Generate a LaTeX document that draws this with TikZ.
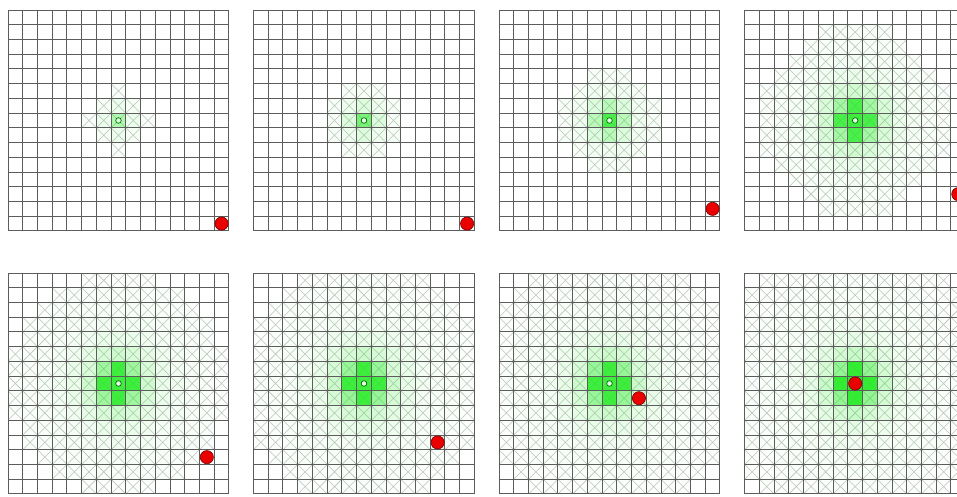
\documentclass[tikz,border=0pt]{standalone}
\usepackage{tikz}
\usepackage{xcolor}
\definecolor{cellgreen}{RGB}{30,235,30}
\definecolor{agentred}{RGB}{235,0,0}
\tikzset{
  gridline/.style={draw=black!64,line width=1pt},
  crossline/.style={draw=black!24,line width=0.55pt},
  agent/.style={fill=agentred,draw=red!45!black,line width=0.6pt},
  startmark/.style={fill=green!12,draw=green!40!black,line width=0.7pt}
}
\def\cs{14.73}
% #1,#2 origin, #3 peak, #4 spread, #5 radius^2, #6,#7 agent cell
\newcommand{\gridpanel}[7]{%
\begin{scope}[shift={(#1,#2)}]
\foreach \i in {0,...,14}{
  \foreach \j in {0,...,14}{
    \pgfmathsetmacro{\dd}{(\i-7)^2+(\j-7)^2}
    \pgfmathtruncatemacro{\inx}{\dd<=#5}
    \ifnum\inx=1
      \pgfmathsetmacro{\op}{min(#3,#4/max(\dd,0.01))}
      \draw[crossline] ({\i*\cs},{\j*\cs}) -- ++(\cs,\cs) ({(\i+1)*\cs},{\j*\cs}) -- ++(-\cs,\cs);
      \fill[cellgreen,fill opacity=\op] ({\i*\cs},{\j*\cs}) rectangle ++(\cs,\cs);
    \fi
  }
}
\foreach \k in {0,...,15}{
  \draw[gridline] ({\k*\cs},0) -- ({\k*\cs},{15*\cs});
  \draw[gridline] (0,{\k*\cs}) -- ({15*\cs},{\k*\cs});
}
\filldraw[startmark] ({7.5*\cs},{7.5*\cs}) circle (2.8pt);
\filldraw[agent] ({(#6+0.5)*\cs},{(#7+0.5)*\cs}) circle (6.6pt);
\end{scope}}

\begin{document}
\begin{tikzpicture}[x=1pt,y=-1pt]
\useasboundingbox (0,0) rectangle (957,496);
\clip (0,0) rectangle (957,496);
\fill[white] (0,0) rectangle (957,496);
\gridpanel{8}{10}{0.35}{0.08}{4}{14}{14}
\gridpanel{253.5}{10}{0.6}{0.15}{5}{14}{14}
\gridpanel{499}{10}{0.8}{0.3}{10}{14}{13}
\gridpanel{744.7}{10}{0.85}{0.8}{40}{14}{12}
\gridpanel{8}{273}{0.85}{0.85}{53}{13}{12}
\gridpanel{253.5}{273}{0.85}{0.9}{65}{12}{11}
\gridpanel{499}{273}{0.85}{0.9}{80}{9}{8}
\gridpanel{744.7}{273}{0.9}{0.95}{90}{7}{7}
\end{tikzpicture}
\end{document}
